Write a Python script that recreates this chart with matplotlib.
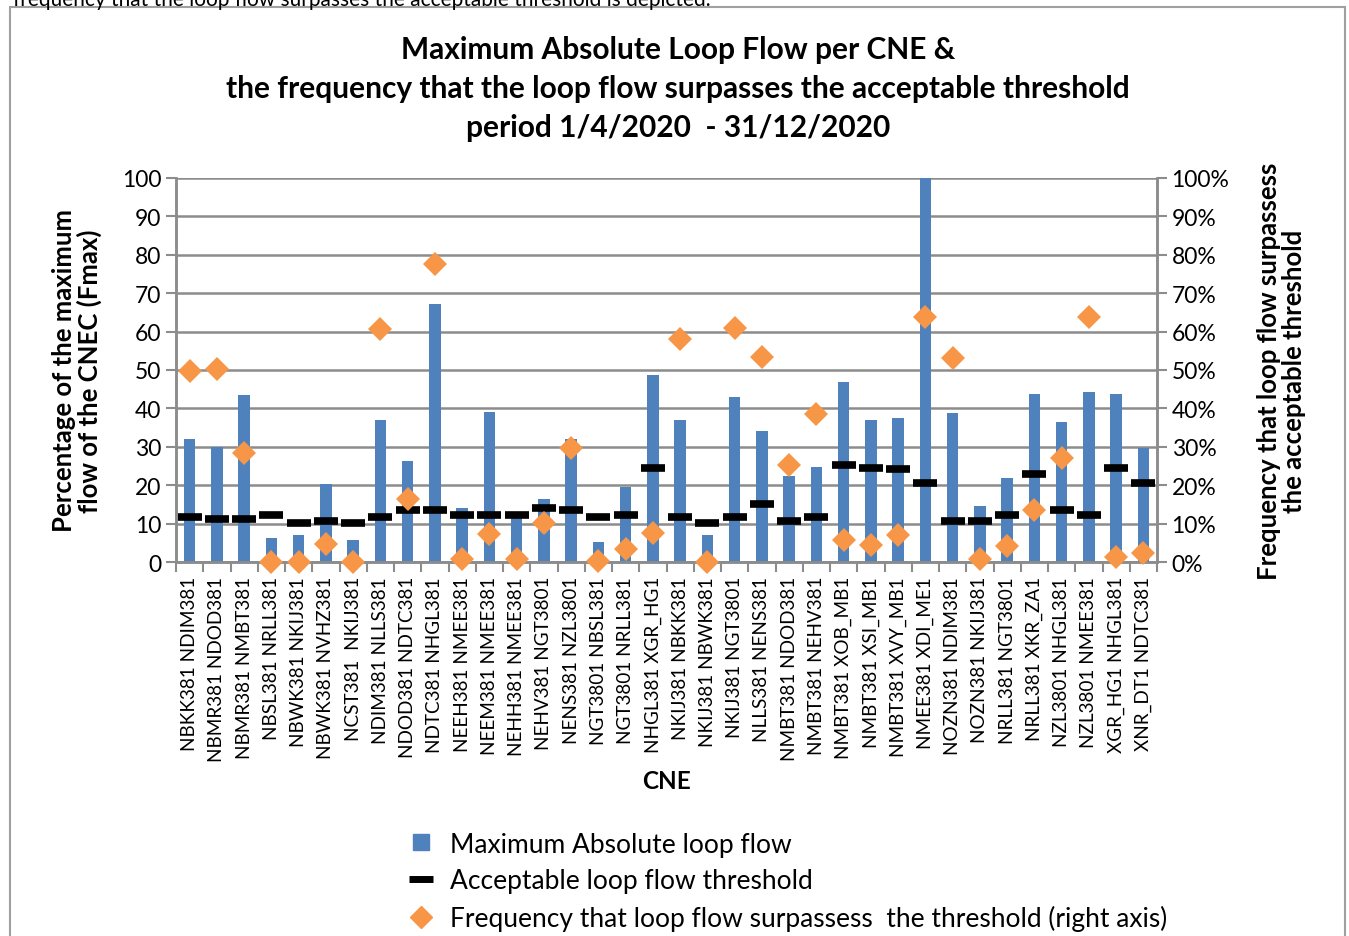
import matplotlib
matplotlib.use("Agg")
import matplotlib.pyplot as plt
from matplotlib.patches import Rectangle
from matplotlib.lines import Line2D
from matplotlib.ticker import FixedLocator, PercentFormatter

plt.rcParams['font.family'] = ['Lato', 'DejaVu Sans']

# CNE names
cne = ["NBKK381 NDIM381", "NBMR381 NDOD381", "NBMR381 NMBT381", "NBSL381 NRLL381",
       "NBWK381 NKIJ381", "NBWK381 NVHZ381", "NCST381  NKIJ381", "NDIM381 NLLS381",
       "NDOD381 NDTC381", "NDTC381 NHGL381", "NEEH381 NMEE381", "NEEM381 NMEE381",
       "NEHH381 NMEE381", "NEHV381 NGT3801", "NENS381 NZL3801", "NGT3801 NBSL381",
       "NGT3801 NRLL381", "NHGL381 XGR_HG1", "NKIJ381 NBKK381", "NKIJ381 NBWK381",
       "NKIJ381 NGT3801", "NLLS381 NENS381", "NMBT381 NDOD381", "NMBT381 NEHV381",
       "NMBT381 XOB_MB1", "NMBT381 XSI_MB1", "NMBT381 XVY_MB1", "NMEE381 XDI_ME1",
       "NOZN381 NDIM381", "NOZN381 NKIJ381", "NRLL381 NGT3801", "NRLL381 XKR_ZA1",
       "NZL3801 NHGL381", "NZL3801 NMEE381", "XGR_HG1 NHGL381", "XNR_DT1 NDTC381"]

# maximum absolute loop flow (% of Fmax)
max_loop_flow = [32, 30, 43.6, 6.3, 7, 20.4, 5.8, 37, 26.3, 67.1, 14.1, 39.1,
                 12.2, 16.3, 32, 5.2, 19.6, 48.7, 37, 7, 43, 34.2, 22.4, 24.8,
                 47, 37, 37.6, 100, 38.7, 14.6, 21.9, 43.7, 36.5, 44.2, 43.7, 29.7]

# acceptable loop flow threshold (% of Fmax)
threshold = [11.8, 11.3, 11.3, 12.3, 10.2, 10.7, 10.2, 11.8, 13.5, 13.5, 12.3, 12.3,
             12.3, 14, 13.5, 11.8, 12.3, 24.6, 11.8, 10.2, 11.8, 15.1, 10.7, 11.8,
             25.2, 24.6, 24.1, 20.7, 10.7, 10.7, 12.3, 23, 13.5, 12.3, 24.6, 20.7]

# frequency that loop flow surpasses the threshold (%)
frequency = [49.7, 50.3, 28.5, 0, 0, 4.6, 0, 60.8, 16.3, 77.5, 0.7, 7.4,
             0.7, 10.2, 29.7, 0.2, 3.5, 7.5, 58, 0, 60.9, 53.5, 25.2, 38.5,
             5.8, 4.5, 7, 63.7, 53, 0.7, 4.1, 13.5, 27, 63.7, 1.3, 2.4]

blue = '#4F81BD'
orange = '#F79646'
grid_col = '#8C8C8C'

fig = plt.figure(figsize=(13.49, 9.37), dpi=100)
W, H = 1349, 937

# outer chart frame
fig.patches.append(Rectangle((10 / W, -0.01), 1335 / W, 1 - 8 / H + 0.01,
                             transform=fig.transFigure, fill=False,
                             edgecolor='#A0A0A0', lw=1.5))
# clipped caption line from the page above the chart
fig.text(0.01, 1.0, "frequency that the loop flow surpasses the acceptable threshold is depicted.",
         fontsize=15, ha='left', va='center', color='black')

ax = fig.add_axes([176 / W, 1 - 563 / H, (1157 - 176) / W, (563 - 179) / H])
x = list(range(len(cne)))

ax.bar(x, max_loop_flow, width=0.42, color=blue, zorder=2)
ax.plot(x, threshold, linestyle='none', marker='_', color='black',
        markersize=17, markeredgewidth=5.5, zorder=3)

ax.set_xlim(-0.5, len(cne) - 0.5)
ax.set_ylim(0, 100)
ax.set_yticks(range(0, 101, 10))
ax.yaxis.grid(True, color=grid_col, lw=1.8, zorder=0)
ax.set_axisbelow(True)
ax.set_xticks(x)
ax.set_xticklabels(cne, rotation=90, fontsize=13.6)
ax.tick_params(axis='x', which='major', length=0, pad=10)
ax.xaxis.set_minor_locator(FixedLocator([i - 0.5 for i in range(len(cne) + 1)]))
ax.tick_params(axis='x', which='minor', length=7, width=1.5, color=grid_col)
ax.tick_params(axis='y', labelsize=16.5, length=7, width=1.5, color=grid_col)
ax.spines['top'].set_visible(False)
for s in ['left', 'bottom', 'right']:
    ax.spines[s].set_color(grid_col)
    ax.spines[s].set_linewidth(1.8)

ax.set_ylabel("Percentage of the maximum\nflow of the CNEC (Fmax)",
              fontsize=18.5, fontweight='bold', labelpad=14, linespacing=1.05)
ax.set_xlabel("CNE", fontsize=17.5, fontweight='bold', labelpad=6)

ax2 = ax.twinx()
ax2.plot(x, frequency, linestyle='none', marker='D', color=orange,
         markersize=12.5, markeredgewidth=0, zorder=4, clip_on=False)
ax2.set_ylim(0, 100)
ax2.set_yticks(range(0, 101, 10))
ax2.yaxis.set_major_formatter(PercentFormatter(decimals=0))
ax2.tick_params(axis='y', labelsize=16.5, length=7, width=1.5, color=grid_col)
ax2.spines['top'].set_visible(False)
for s in ['left', 'bottom', 'right']:
    ax2.spines[s].set_color(grid_col)
    ax2.spines[s].set_linewidth(1.8)
ax2.set_ylabel("Frequency that loop flow surpassess\nthe acceptable threshold",
               fontsize=18.5, fontweight='bold', labelpad=20, linespacing=1.05)

fig.text(678 / W, 1 - 89 / H,
         "Maximum Absolute Loop Flow per CNE &\n"
         "the frequency that the loop flow surpasses the acceptable threshold\n"
         "period 1/4/2020  - 31/12/2020",
         ha='center', va='center', fontsize=21.5, fontweight='bold', linespacing=1.5)

handles = [
    Line2D([], [], linestyle='none', marker='s', color=blue, markersize=11),
    Line2D([], [], linestyle='none', marker='_', color='black', markersize=17, markeredgewidth=5),
    Line2D([], [], linestyle='none', marker='D', color=orange, markersize=11),
]
labels = ["Maximum Absolute loop flow", "Acceptable loop flow threshold",
          "Frequency that loop flow surpassess  the threshold (right axis)"]
fig.legend(handles, labels, loc='upper left', bbox_to_anchor=(395 / W, 1 - 822 / H),
           frameon=False, fontsize=19, handletextpad=0.5, labelspacing=0.45,
           handlelength=1.2, borderaxespad=0)

fig.savefig("out.png", dpi=100)
